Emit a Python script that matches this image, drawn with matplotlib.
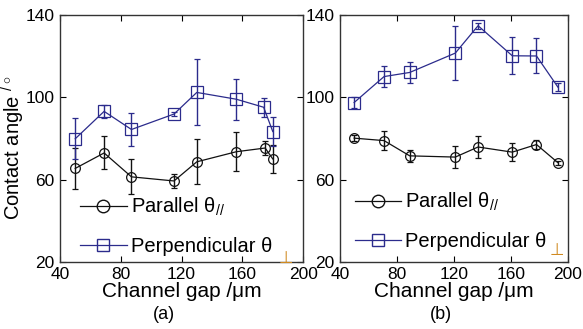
#!/usr/bin/env python3
# -*- coding: utf-8 -*-
"""
Contact angle vs channel gap, panels (a) and (b).
"""
import matplotlib
matplotlib.use('Agg')
import matplotlib.pyplot as plt
from matplotlib.lines import Line2D

plt.rcParams['font.family'] = ['Liberation Sans', 'DejaVu Sans']
plt.rcParams['mathtext.fontset'] = 'custom'
plt.rcParams['mathtext.rm'] = 'Liberation Sans'
plt.rcParams['mathtext.it'] = 'Liberation Sans:italic'

# panel (a)
gapA_par = [50, 69, 87, 115, 130, 156, 175, 180]
parA = [65.4, 72.9, 61.3, 59.3, 68.6, 73.5, 75.3, 70.0]
parA_err = [10, 8, 8.5, 3.5, 11, 9.5, 3.5, 7]
gapA_perp = [50, 69, 87, 115, 130, 156, 174, 180]
perpA = [79.8, 93.1, 84.3, 91.8, 102.3, 99.0, 95.1, 83.3]
perpA_err = [10, 3, 8, 1, 16, 10, 4.5, 7]

# panel (b)
gapB = [50, 71, 89, 121, 137, 161, 178, 193]
parB = [80.1, 78.9, 71.5, 70.9, 75.8, 73.3, 77.0, 68.2]
parB_err = [1.5, 4.5, 3, 5.5, 5.5, 4.5, 2, 1]
perpB = [97.4, 110.0, 112.0, 121.4, 134.7, 120.1, 120.0, 104.9]
perpB_err = [2.5, 5, 5, 13, 1.5, 9, 8.5, 2]

xticks = [40, 80, 120, 160, 200]
yticks = [20, 60, 100, 140]

blue = '#2b2b8c'
black = '#111111'


def panel(ax, gp, par, pe, gq, perp, qe, leg_anchor, perp_pos):
    ax.errorbar(gp, par, yerr=pe, color=black, marker='o', ms=7, mfc='none',
                mec=black, mew=0.9, lw=0.9, capsize=2.5, elinewidth=1.0)
    ax.errorbar(gq, perp, yerr=qe, color=blue, marker='s', ms=8, mfc='none',
                mec=blue, mew=0.9, lw=0.9, capsize=2.5, elinewidth=1.0)
    ax.set_xlim(40, 200)
    ax.set_ylim(20, 140)
    ax.set_xticks(xticks)
    ax.set_yticks(yticks)
    ax.tick_params(direction='in', top=True, right=True, labelsize=12.5,
                   length=4, width=0.8, pad=4)
    for s in ax.spines.values():
        s.set_linewidth(1.0)
        s.set_color('#333333')
    ax.set_xlabel('Channel gap /μm', fontsize=15, labelpad=0)
    handles = [Line2D([], [], color=black, marker='o', ms=9, mfc='none', lw=0.9),
               Line2D([], [], color=blue, marker='s', ms=9, mfc='none', lw=0.9)]
    labels = ['Parallel θ$_{//}$', 'Perpendicular θ']
    ax.legend(handles, labels, loc='lower left', bbox_to_anchor=leg_anchor,
              frameon=False, fontsize=14.5, handlelength=2.3, handletextpad=0.2,
              labelspacing=0.95, borderaxespad=0)
    ax.text(perp_pos[0], perp_pos[1], '⊥', transform=ax.transAxes,
            color='#d08a20', fontsize=12, ha='center', va='center')


fig = plt.figure(figsize=(5.83, 3.29), dpi=100)
axA = fig.add_axes([0.103, 0.204, 0.417, 0.751])
axB = fig.add_axes([0.583, 0.204, 0.391, 0.751])

panel(axA, gapA_par, parA, parA_err, gapA_perp, perpA, perpA_err,
      (0.05, -0.01), (0.93, 0.015))
panel(axB, gapB, parB, parB_err, gapB, perpB, perpB_err,
      (0.03, 0.01), (0.95, 0.045))

axA.set_ylabel('Contact angle $^{/\\circ}$', fontsize=14.5)
axA.yaxis.set_label_coords(-0.135, 0.46)

fig.text(0.281, 0.045, '(a)', fontsize=13, ha='center', va='center')
fig.text(0.757, 0.045, '(b)', fontsize=13, ha='center', va='center')

fig.savefig('out.png', dpi=100)
